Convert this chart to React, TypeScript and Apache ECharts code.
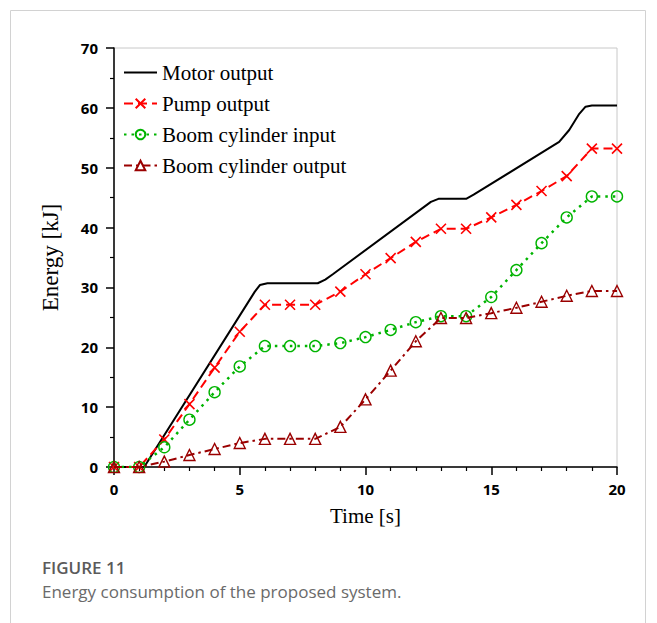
import React, { useEffect, useRef } from "react";
import * as echarts from "echarts";

const timeSteps = [0, 1, 2, 3, 4, 5, 6, 7, 8, 9, 10, 11, 12, 13, 14, 15, 16, 17, 18, 19, 20];

const motorTime = [0, 1.2, 5.6, 5.8, 6.1, 8.1, 8.4, 8.7, 12.6, 12.9, 14.0, 14.3, 17.7, 18.1, 18.5, 18.75, 19.0, 20];
const motorEnergy = [0, 0, 29.3, 30.4, 30.7, 30.7, 31.3, 32.2, 44.3, 44.8, 44.8, 45.5, 54.3, 56.3, 59.0, 60.2, 60.4, 60.4];

const pumpEnergy = [0, 0, 4.6, 10.5, 16.6, 22.6, 27.1, 27.1, 27.1, 29.3, 32.2, 34.9, 37.6, 39.8, 39.8, 41.7, 43.8, 46.1, 48.6, 53.2, 53.2];
const boomInputEnergy = [0, 0, 3.3, 7.9, 12.5, 16.8, 20.2, 20.2, 20.2, 20.7, 21.7, 22.9, 24.2, 25.2, 25.2, 28.4, 32.9, 37.4, 41.7, 45.2, 45.2];
const boomOutputEnergy = [0, 0, 0.9, 2.0, 3.0, 4.0, 4.7, 4.7, 4.7, 6.7, 11.3, 16.1, 21.0, 24.9, 24.9, 25.7, 26.6, 27.6, 28.6, 29.4, 29.4];

const seriesNames = ["Motor output", "Pump output", "Boom cylinder input", "Boom cylinder output"];
const xTicks = { min: 0, max: 20, interval: 5 };
const yTicks = { min: 0, max: 70, interval: 10 };

const xAxisTitle = "Time [s]";
const yAxisTitle = "Energy [kJ]";
const figureLabel = "FIGURE 11";
const figureCaption = "Energy consumption of the proposed system.";

const pair = (xs: number[], ys: number[]) => xs.map((x, i) => [x, ys[i]]);

export default function App() {
  const ref = useRef<HTMLDivElement>(null);
  useEffect(() => {
    if (!ref.current) return;
    const chart = echarts.init(ref.current, undefined, { renderer: "svg" });
    const serif = "'Liberation Serif', 'Times New Roman', serif";
    const sans = "'Open Sans', 'Noto Sans', sans-serif";
    const tickLabel = { color: "#000", fontFamily: sans, fontWeight: "bold" as const, fontSize: 15 };
    chart.setOption({
      animation: false,
      backgroundColor: "#fff",
      grid: {
        left: 114,
        right: 40,
        top: 48,
        bottom: 156,
        show: true,
        borderColor: "#c8c8c8",
        borderWidth: 1,
      },
      legend: {
        orient: "vertical",
        left: 118,
        top: 57,
        itemWidth: 33,
        itemHeight: 12,
        itemGap: 10,
        textStyle: { fontFamily: serif, fontSize: 21, color: "#000" },
        data: [
          { name: seriesNames[0], itemStyle: { color: "transparent", borderColor: "transparent", borderWidth: 0 } },
          seriesNames[1],
          seriesNames[2],
          seriesNames[3],
        ],
      },
      xAxis: {
        type: "value",
        min: xTicks.min,
        max: xTicks.max,
        interval: xTicks.interval,
        name: xAxisTitle,
        nameLocation: "middle",
        nameGap: 38,
        nameTextStyle: { fontFamily: serif, fontSize: 21, color: "#000" },
        axisLine: { show: true, lineStyle: { color: "#000", width: 1.5 } },
        axisTick: { show: true, length: 8, lineStyle: { color: "#000", width: 1.5 } },
        minorTick: { show: true, splitNumber: 5, length: 4, lineStyle: { color: "#000", width: 1.2 } },
        splitLine: { show: false },
        axisLabel: { ...tickLabel, margin: 14 },
      },
      yAxis: {
        type: "value",
        min: yTicks.min,
        max: yTicks.max,
        interval: yTicks.interval,
        name: yAxisTitle,
        nameLocation: "middle",
        nameGap: 52,
        nameRotate: 90,
        nameTextStyle: { fontFamily: serif, fontSize: 23, color: "#000" },
        axisLine: { show: true, lineStyle: { color: "#000", width: 1.5 } },
        axisTick: { show: true, length: 8, lineStyle: { color: "#000", width: 1.5 } },
        minorTick: { show: true, splitNumber: 2, length: 4, lineStyle: { color: "#000", width: 1.2 } },
        splitLine: { show: false },
        axisLabel: { ...tickLabel, margin: 16 },
      },
      series: [
        {
          name: seriesNames[0],
          type: "line",
          data: pair(motorTime, motorEnergy),
          symbol: "none",
          showSymbol: false,
          color: "#000",
          lineStyle: { color: "#000", width: 2, type: "solid" },
          z: 2,
        },
        {
          name: seriesNames[1],
          type: "line",
          data: pair(timeSteps, pumpEnergy),
          symbol: "path://M0,0L10,10M10,0L0,10",
          symbolSize: 10,
          color: "#ff0000",
          lineStyle: { color: "#ff0000", width: 2, type: [9, 5] },
          itemStyle: { color: "transparent", borderColor: "#ff0000", borderWidth: 1.6 },
          z: 3,
        },
        {
          name: seriesNames[2],
          type: "line",
          data: pair(timeSteps, boomInputEnergy),
          symbol: "circle",
          symbolSize: 11,
          color: "#00b400",
          lineStyle: { color: "#00b400", width: 2.5, type: [2.5, 5] },
          itemStyle: { color: "transparent", borderColor: "#00b400", borderWidth: 1.4 },
          z: 4,
        },
        {
          name: seriesNames[3],
          type: "line",
          data: pair(timeSteps, boomOutputEnergy),
          symbol: "triangle",
          symbolSize: 11,
          color: "#9a0000",
          lineStyle: { color: "#9a0000", width: 2, type: [8, 4, 2.5, 4] },
          itemStyle: { color: "transparent", borderColor: "#9a0000", borderWidth: 1.4 },
          z: 5,
        },
      ],
      graphic: [
        {
          type: "rect",
          shape: { x: 10.5, y: 10.5, width: 635, height: 700 },
          style: { fill: "none", stroke: "#d2d2d2", lineWidth: 1 },
          silent: true,
          z: -10,
        },
        {
          type: "text",
          x: 42,
          y: 567,
          style: {
            text: figureLabel,
            fill: "#5a5a5a",
            fontFamily: sans,
            fontWeight: 600,
            fontSize: 17,
            verticalAlign: "middle",
          },
        },
        {
          type: "text",
          x: 42,
          y: 591,
          style: {
            text: figureCaption,
            fill: "#6a6a6a",
            fontFamily: sans,
            fontSize: 17,
            verticalAlign: "middle",
          },
        },
      ],
    });
    return () => chart.dispose();
  }, []);
  return (
    <div
      ref={ref}
      style={{ position: "absolute", left: 0, top: 0, width: 657, height: 623 }}
    />
  );
}
